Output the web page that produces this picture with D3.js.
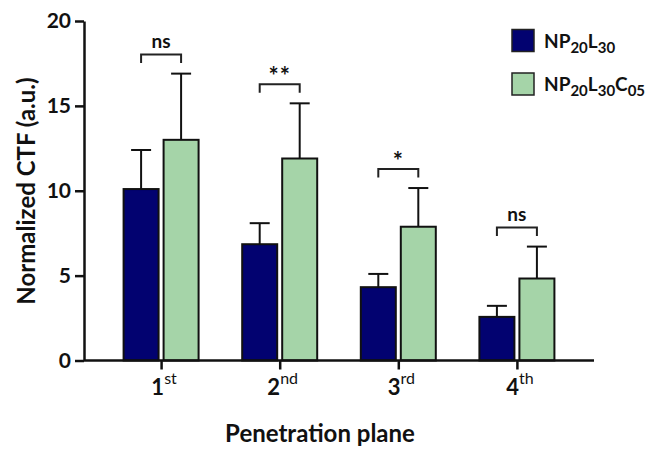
<!DOCTYPE html>
<html>
<head>
<meta charset="utf-8">
<script src="https://cdn.jsdelivr.net/npm/d3@7"></script>
<style>
  body { margin: 0; background: #fff; }
  text { font-family: Lato, "Open Sans", sans-serif; font-weight: bold; fill: #111; }
</style>
</head>
<body>
<div id="chart"></div>
<script>
// Données
const planes = ["1", "2", "3", "4"];
const planeSuffix = ["st", "nd", "rd", "th"];
const meanL30 = [10.1, 6.85, 4.32, 2.57];
const sdL30 = [2.3, 1.24, 0.78, 0.65];
const meanC05 = [13.0, 11.9, 7.88, 4.83];
const sdC05 = [3.9, 3.25, 2.28, 1.88];
const sigLabels = ["ns", "**", "*", "ns"];
const yTicks = [0, 5, 10, 15, 20];

var width = 658
var height = 449

const svg = d3.select("#chart")
  .append("svg")
    .attr("width", width)
    .attr("height", height)

const colDark = "#020270"
const colGreen = "#a5d4a8"

// Echelles
const x = d3.scalePoint()
  .domain(planes)
  .range([84, 594])
  .padding(0.65)

const y = d3.scaleLinear()
  .domain([0, 20])
  .range([360.5, 21])

const barW = 35
const gap = 2.5

const groups = planes.map(function(p, i) {
  return {p: p, a: meanL30[i], sa: sdL30[i], b: meanC05[i], sb: sdC05[i], sig: sigLabels[i]}
})

// Barres d'erreur (dessinées avant les barres)
function errorBar(sel, cx, top, base) {
  sel.append("line")
    .attr("x1", cx).attr("x2", cx)
    .attr("y1", base).attr("y2", top)
    .attr("stroke", "#111").attr("stroke-width", 2)
  sel.append("line")
    .attr("x1", cx - 10).attr("x2", cx + 10)
    .attr("y1", top).attr("y2", top)
    .attr("stroke", "#111").attr("stroke-width", 2)
}

const g = svg.append("g")
groups.forEach(function(d) {
  const cx = x(d.p)
  const ca = cx - gap - barW / 2
  const cb = cx + gap + barW / 2
  errorBar(g, ca, y(d.a + d.sa), y(d.a))
  errorBar(g, cb, y(d.b + d.sb), y(d.b))

  g.append("rect")
    .attr("x", cx - gap - barW).attr("y", y(d.a))
    .attr("width", barW).attr("height", y(0) - y(d.a))
    .attr("fill", colDark).attr("stroke", "#111").attr("stroke-width", 2)
  g.append("rect")
    .attr("x", cx + gap).attr("y", y(d.b))
    .attr("width", barW).attr("height", y(0) - y(d.b))
    .attr("fill", colGreen).attr("stroke", "#111").attr("stroke-width", 2)

  // Crochet de significativité
  const legBottom = y(d.b + d.sb) - 10.5
  const top = legBottom - 8.5
  g.append("path")
    .attr("d", "M" + ca + "," + legBottom + "V" + top + "H" + cb + "V" + legBottom)
    .attr("fill", "none").attr("stroke", "#222").attr("stroke-width", 2)
  const star = d.sig.indexOf("*") >= 0
  g.append("text")
    .attr("x", (ca + cb) / 2)
    .attr("y", star ? top + 1 : top - 7)
    .attr("text-anchor", "middle")
    .style("font-size", star ? "24px" : "19px")
    .style("letter-spacing", star ? "1px" : "0px")
    .text(d.sig)
})

// Axe Y
const yAxis = svg.append("g")
  .attr("transform", "translate(84,0)")
  .call(d3.axisLeft(y).tickValues(yTicks).tickSize(9).tickSizeOuter(0).tickPadding(4))
yAxis.selectAll("path, line").attr("stroke", "#111").attr("stroke-width", 2.5)
yAxis.selectAll("text").style("font-size", "21px").attr("font-family", null)

// Axe X
const xAxis = svg.append("g")
  .attr("transform", "translate(0," + y(0) + ")")
  .call(d3.axisBottom(x).tickSize(9).tickSizeOuter(0).tickFormat(""))
xAxis.selectAll("path, line").attr("stroke", "#111").attr("stroke-width", 2.5)
xAxis.select(".domain").attr("d", "M84,0H594")

const xl = svg.append("g").selectAll("text")
  .data(planes)
  .join("text")
    .attr("x", function(d) { return x(d) + 3 })
    .attr("y", 395)
    .attr("text-anchor", "middle")
    .style("font-size", "22px")
xl.append("tspan").text(function(d) { return d })
xl.append("tspan")
  .attr("dy", -11)
  .style("font-size", "16px")
  .style("font-weight", "normal")
  .text(function(d, i) { return planeSuffix[i] })

// Titres des axes
svg.append("text")
  .attr("x", 320)
  .attr("y", 442)
  .attr("text-anchor", "middle")
  .style("font-size", "24px")
  .text("Penetration plane")

svg.append("text")
  .attr("transform", "translate(35,191) rotate(-90)")
  .attr("text-anchor", "middle")
  .style("font-size", "24px")
  .text("Normalized CTF (a.u.)")

// Légende
const legend = [
  {color: colDark, parts: [["NP", 0], ["20", 1], ["L", 0], ["30", 1]]},
  {color: colGreen, parts: [["NP", 0], ["20", 1], ["L", 0], ["30", 1], ["C", 0], ["05", 1]]}
]
legend.forEach(function(l, i) {
  const ly = 29.5 + i * 43.5
  svg.append("rect")
    .attr("x", 512).attr("y", ly)
    .attr("width", 22).attr("height", 22)
    .attr("fill", l.color).attr("stroke", "#222").attr("stroke-width", 1.5)
  const t = svg.append("text")
    .attr("x", 544).attr("y", ly + 18)
    .style("font-size", "19px")
  let prev = 0
  l.parts.forEach(function(p) {
    t.append("tspan")
      .attr("dy", (p[1] - prev) * 5)
      .style("font-size", p[1] ? "15px" : "19px")
      .text(p[0])
    prev = p[1]
  })
})
</script>
</body>
</html>
